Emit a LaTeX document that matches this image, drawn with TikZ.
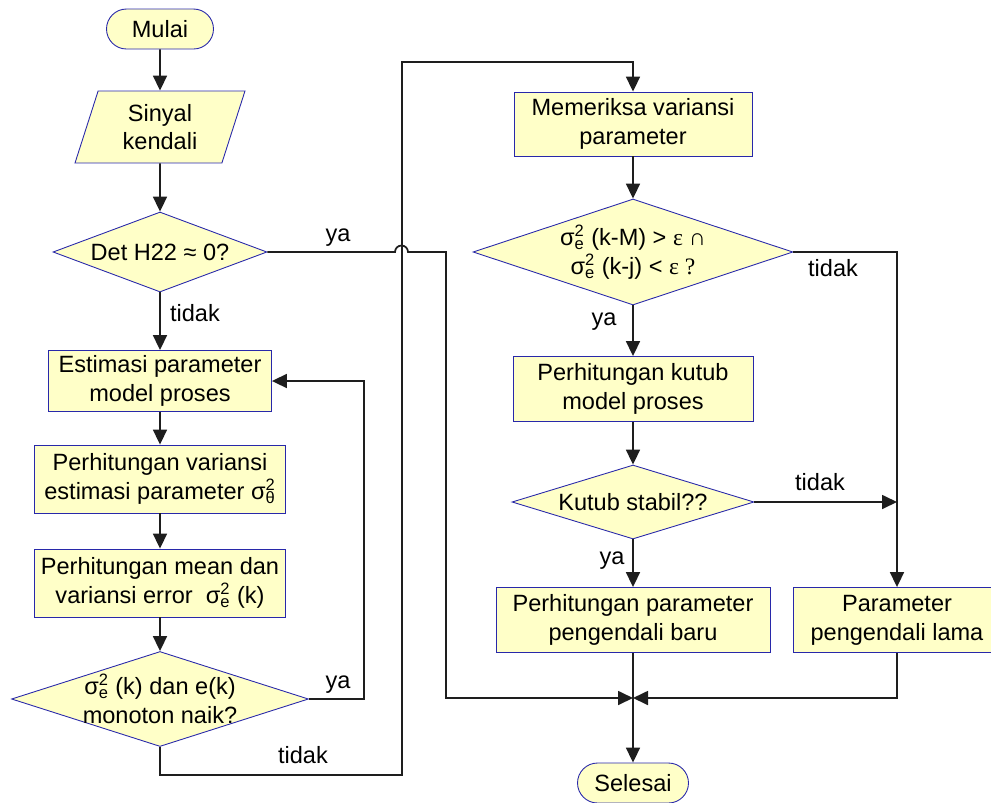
\documentclass[tikz,border=0pt]{standalone}
\usepackage{fontspec}
\setmainfont{Liberation Sans}
\newfontfamily\serifsym{Liberation Serif}
\usetikzlibrary{arrows.meta,shapes.geometric}
\definecolor{boxfill}{RGB}{255,255,200}
\definecolor{boxline}{RGB}{40,40,170}
\definecolor{flowline}{RGB}{30,30,30}
% sigma squared with a subscript
\newcommand{\sigsq}[1]{σ\rlap{\textsuperscript{2}}\textsubscript{#1}}
\begin{document}
\begin{tikzpicture}[
        x=0.02cm, y=-0.02cm,
        line join=miter,
        every node/.style={font=\fontsize{13.4}{16.4}\selectfont},
        proc/.style={draw=boxline, fill=boxfill, line width=0.5pt, align=center, inner sep=0pt},
        term/.style={proc, rounded corners=0.4cm},
        dec/.style={diamond, draw=boxline, fill=boxfill, line width=0.5pt, inner sep=0pt},
        io/.style={trapezium, trapezium left angle=63.4, trapezium right angle=116.6,
            trapezium stretches body, draw=boxline, fill=boxfill, line width=0.5pt,
            align=center, inner sep=0pt},
        flow/.style={line width=1pt, draw=flowline},
        arr/.style={flow, -{Triangle[length=3mm,width=2.8mm]}}
    ]
        \useasboundingbox (0,0) rectangle (991,802);
        % Left column
        \node[term, minimum width=2.14cm, minimum height=0.8cm] (mulai) at (160,29) {Mulai};
        \node[io, minimum width=3.4cm, minimum height=1.44cm] (sinyal) at (160,127) {Sinyal\\kendali};
        \node[dec, minimum width=4.28cm, minimum height=1.6cm] (d1) at (160,252) {};
        \node (d1t) at (d1) {Det H22 ≈ 0?};
        \node[proc, minimum width=4.46cm, minimum height=1.22cm] (estim) at (160,381) {Estimasi parameter\\model proses};
        \node[proc, minimum width=5.02cm, minimum height=1.36cm] (varpar) at (160,479) {Perhitungan variansi\\estimasi parameter \sigsq{θ}};
        \node[proc, minimum width=5.02cm, minimum height=1.36cm] (mean) at (160,583) {Perhitungan mean dan\\variansi error~ \sigsq{e} (k)};
        \node[dec, minimum width=5.94cm, minimum height=1.9cm] (d4) at (160,699) {};
        \node[align=center] (d4t) at (d4) {\sigsq{e} (k) dan e(k)\\monoton naik?};
        % Right column
        \node[proc, minimum width=4.76cm, minimum height=1.28cm] (periksa) at (633,124) {Memeriksa variansi\\parameter};
        \node[dec, minimum width=6.4cm, minimum height=2.12cm] (d2) at (633,252) {};
        \node[align=center] (d2t) at (633,252) {\sigsq{e} (k-M) > {\serifsym ε ∩}\\\sigsq{e} (k-j) < {\serifsym ε ?}};
        \node[proc, minimum width=4.8cm, minimum height=1.3cm] (kutub) at (633,389) {Perhitungan kutub\\model proses};
        \node[dec, minimum width=4.84cm, minimum height=1.48cm] (d3) at (633,502) {};
        \node (d3t) at (d3) {Kutub stabil??};
        \node[proc, minimum width=5.48cm, minimum height=1.3cm] (pbaru) at (633,620) {Perhitungan parameter\\pengendali baru};
        \node[proc, minimum width=4.16cm, minimum height=1.3cm] (plama) at (897,620) {Parameter\\pengendali lama};
        \node[term, minimum width=2.22cm, minimum height=0.8cm] (selesai) at (633,783) {Selesai};
        % Junctions
        \coordinate (m) at (633,698);
        \coordinate (j) at (897,502);
        % Connectors, left column
        \draw[arr] (mulai) -- (sinyal);
        \draw[arr] (sinyal) -- (d1);
        \draw[arr] (d1) -- (estim);
        \draw[arr] (estim) -- (varpar);
        \draw[arr] (varpar) -- (mean);
        \draw[arr] (mean) -- (d4);
        \draw[arr] (d4.east) -- (364,699) |- (estim.east);
        \draw[arr] (d4.south) |- (402,775) -- (402,62) -| (periksa.north);
        \draw[arr] (d1.east) -- (395,252) arc[start angle=180, end angle=360, radius=6.5]
            -- (446,252) -- (446,698) -- (m);
        % Connectors, right column
        \draw[arr] (periksa) -- (d2);
        \draw[arr] (d2) -- (kutub);
        \draw[arr] (kutub) -- (d3);
        \draw[arr] (d3) -- (pbaru);
        \draw[arr] (d2.east) -| (plama.north);
        \draw[arr] (d3.east) -- (j);
        \draw[arr] (pbaru) -- (selesai);
        \draw[arr] (plama.south) |- (m);
        % Labels
        \node (ya1) at (338,238) {ya};
        \node (tidak1) at (195,313) {tidak};
        \node (ya4) at (338,685) {ya};
        \node (tidak4) at (303,755) {tidak};
        \node (tidak2) at (833,268) {tidak};
        \node (ya2) at (604,322) {ya};
        \node (tidak3) at (820,482) {tidak};
        \node (ya3) at (612,561) {ya};
    \end{tikzpicture}
\end{document}
